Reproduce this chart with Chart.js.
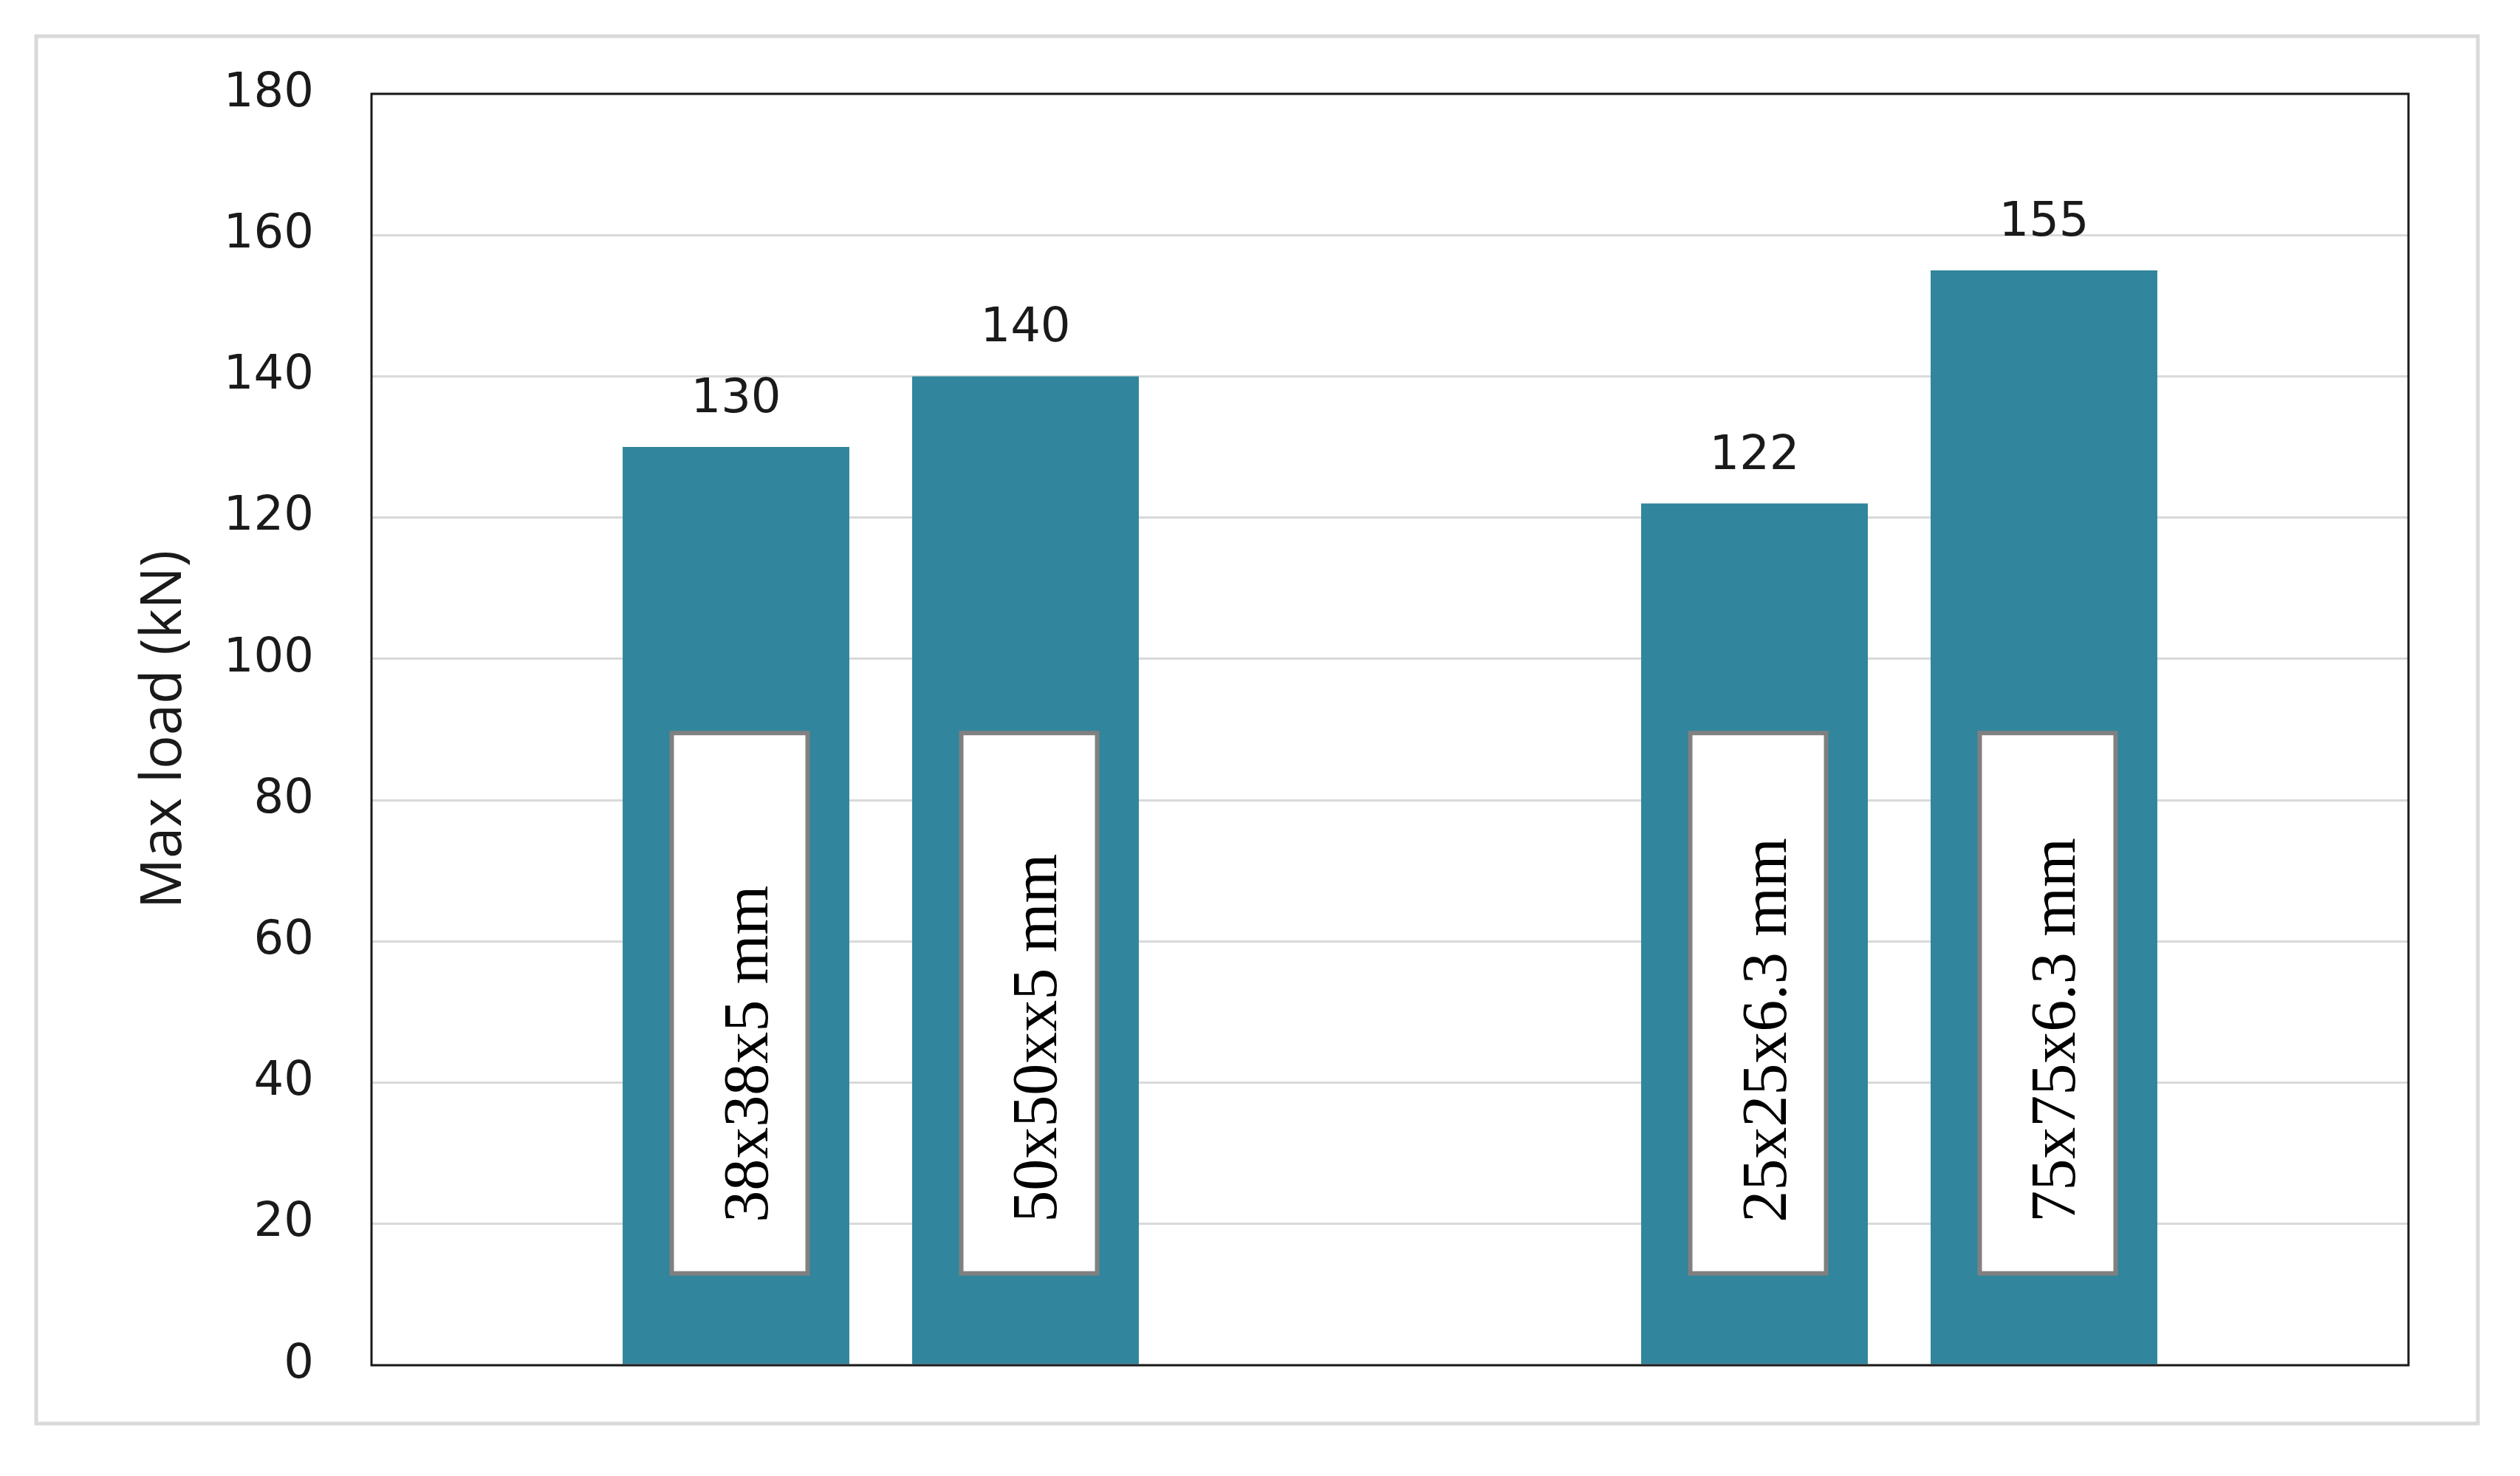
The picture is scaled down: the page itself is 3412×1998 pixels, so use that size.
<!DOCTYPE html>
<html>
<head>
<meta charset="utf-8">
<script src="https://cdn.jsdelivr.net/npm/chart.js@4/dist/chart.umd.min.js"></script>
<style>
  body { margin: 0; background: #fff; }
  canvas { display: block; }
</style>
</head>
<body>
<canvas id="loadChart" width="3412" height="1998"></canvas>
<script>
// ================= DATA =================
const groups = ["Group 1", "Group 2"];
const firstLoads = [130, 122];
const secondLoads = [140, 155];
const firstSections = ["38x38x5 mm", "25x25x6.3 mm"];
const secondSections = ["50x50xx5 mm", "75x75x6.3 mm"];

const yMin = 0;
const yMax = 180;
const yStep = 20;
const yTitle = "Max load (kN)";

const barColor = "#31859c";

// ================= PLUGINS =================
// outer light frame around the whole figure
const framePlugin = {
  id: "frame",
  beforeDraw(chart) {
    const ctx = chart.ctx;
    ctx.save();
    ctx.fillStyle = "#fff";
    ctx.fillRect(0, 0, chart.width, chart.height);
    ctx.strokeStyle = "#d9d9d9";
    ctx.lineWidth = 5;
    ctx.strokeRect(49, 49, 3306, 1878);
    ctx.restore();
  }
};

// black plot border, value labels, white section boxes
const decorPlugin = {
  id: "decor",
  afterDatasetsDraw(chart) {
    const ctx = chart.ctx;
    const area = chart.chartArea;
    const y = chart.scales.y;

    ctx.save();
    ctx.strokeStyle = "#1a1a1a";
    ctx.lineWidth = 3;
    ctx.strokeRect(area.left, area.top, area.right - area.left, area.bottom - area.top);

    const sections = [firstSections, secondSections];
    chart.data.datasets.forEach((ds, di) => {
      const meta = chart.getDatasetMeta(di);
      meta.data.forEach((bar, i) => {
        // value above the bar
        ctx.fillStyle = "#1a1a1a";
        ctx.font = "64px 'DejaVu Sans'";
        ctx.textAlign = "center";
        ctx.textBaseline = "alphabetic";
        ctx.fillText(String(ds.data[i]), bar.x, bar.y - 47);

        // boxed section label
        const cx = bar.x + 5;
        const top = y.getPixelForValue(89.5);
        const bottom = y.getPixelForValue(13);
        const w = 184;
        ctx.fillStyle = "#fff";
        ctx.fillRect(cx - w / 2, top, w, bottom - top);
        ctx.strokeStyle = "#808080";
        ctx.lineWidth = 6;
        ctx.strokeRect(cx - w / 2, top, w, bottom - top);

        ctx.save();
        ctx.translate(bar.x + 42, y.getPixelForValue(20.2));
        ctx.rotate(-Math.PI / 2);
        ctx.fillStyle = "#000";
        ctx.font = "86px 'Liberation Serif'";
        ctx.textAlign = "left";
        ctx.textBaseline = "alphabetic";
        ctx.fillText(sections[di][i], 0, 0);
        ctx.restore();
      });
    });
    ctx.restore();
  }
};

// ================= CHART =================
const ctx = document.getElementById("loadChart").getContext("2d");

new Chart(ctx, {
  type: "bar",
  data: {
    labels: groups,
    datasets: [
      { label: "First section", data: firstLoads, backgroundColor: barColor },
      { label: "Second section", data: secondLoads, backgroundColor: barColor }
    ]
  },
  options: {
    responsive: false,
    animation: false,
    devicePixelRatio: 1,
    categoryPercentage: 0.5685,
    barPercentage: 0.783,
    layout: { padding: { left: 0, top: 127, right: 151, bottom: 150 } },
    plugins: {
      legend: { display: false },
      tooltip: { enabled: false }
    },
    scales: {
      x: { display: false },
      y: {
        min: yMin,
        max: yMax,
        ticks: {
          stepSize: yStep,
          padding: 78,
          color: "#1a1a1a",
          font: { family: "DejaVu Sans", size: 64 }
        },
        grid: { color: "#d9d9d9", lineWidth: 3, drawTicks: false },
        border: { display: false },
        title: {
          display: true,
          text: yTitle,
          color: "#1a1a1a",
          font: { family: "Open Sans", size: 76 },
          padding: { top: 178, bottom: 0 }
        },
        afterFit(scale) { scale.width = 503; }
      }
    }
  },
  plugins: [framePlugin, decorPlugin]
});
</script>
</body>
</html>
